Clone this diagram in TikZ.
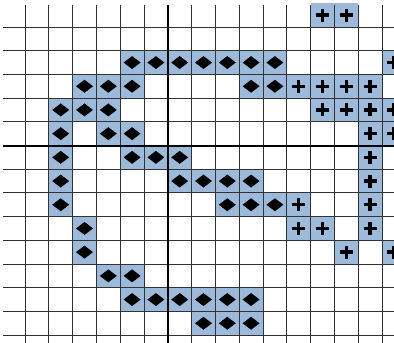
\documentclass[tikz,border=0pt]{standalone}
\definecolor{cellblue}{RGB}{158,186,219}
\definecolor{gridgrey}{RGB}{50,50,50}
\begin{document}
\begin{tikzpicture}[x=1pt,y=-1pt,
  gridline/.style={draw=gridgrey,line width=0.9pt},
  axisline/.style={draw=black,line width=2pt},
  cell/.style={fill=cellblue}]

\useasboundingbox (0,0) rectangle (394,343);
\clip (0,0) rectangle (394,343);

% Diamond cells
\foreach \c/\r in {4/1,5/1,6/1,7/1,8/1,9/1,10/1,
  2/2,3/2,4/2,9/2,10/2,
  1/3,2/3,3/3,
  1/4,3/4,4/4,
  1/5,4/5,5/5,6/5,
  1/6,6/6,7/6,8/6,9/6,
  1/7,8/7,9/7,10/7,
  2/8,2/9,3/10,4/10,
  4/11,5/11,6/11,7/11,8/11,9/11,
  7/12,8/12,9/12}
{
  \fill[cell] ({25+23.8*\c},{27+23.7*\r}) rectangle +(23.8,23.7);
  \fill ({25+23.8*(\c+0.5)-8.5},{27+23.7*(\r+0.5)}) -- +(8.5,-6.5) -- +(17,0) -- +(8.5,6.5) -- cycle;
}

% Plus cells
\foreach \c/\r in {12/-1,13/-1,
  15/1,
  11/2,12/2,13/2,14/2,
  12/3,13/3,14/3,15/3,
  14/4,15/4,14/5,14/6,
  11/7,14/7,
  11/8,12/8,14/8,
  13/9,15/9}
{
  \fill[cell] ({25+23.8*\c},{27+23.7*\r}) rectangle +(23.8,23.7);
  \fill ({25+23.8*(\c+0.5)-6.5},{27+23.7*(\r+0.5)-1.7}) rectangle +(13,3.4);
  \fill ({25+23.8*(\c+0.5)-1.7},{27+23.7*(\r+0.5)-6.5}) rectangle +(3.4,13);
}

% Grid
\foreach \i in {0,...,15}
  \draw[gridline] ({25+23.8*\i},5) -- ({25+23.8*\i},343);
\foreach \j in {0,...,13}
  \draw[gridline] (3,{27+23.7*\j}) -- (394,{27+23.7*\j});

% Axes
\draw[axisline] ({25+23.8*6},5) -- ({25+23.8*6},343);
\draw[axisline] (3,{27+23.7*5}) -- (394,{27+23.7*5});

\end{tikzpicture}
\end{document}
